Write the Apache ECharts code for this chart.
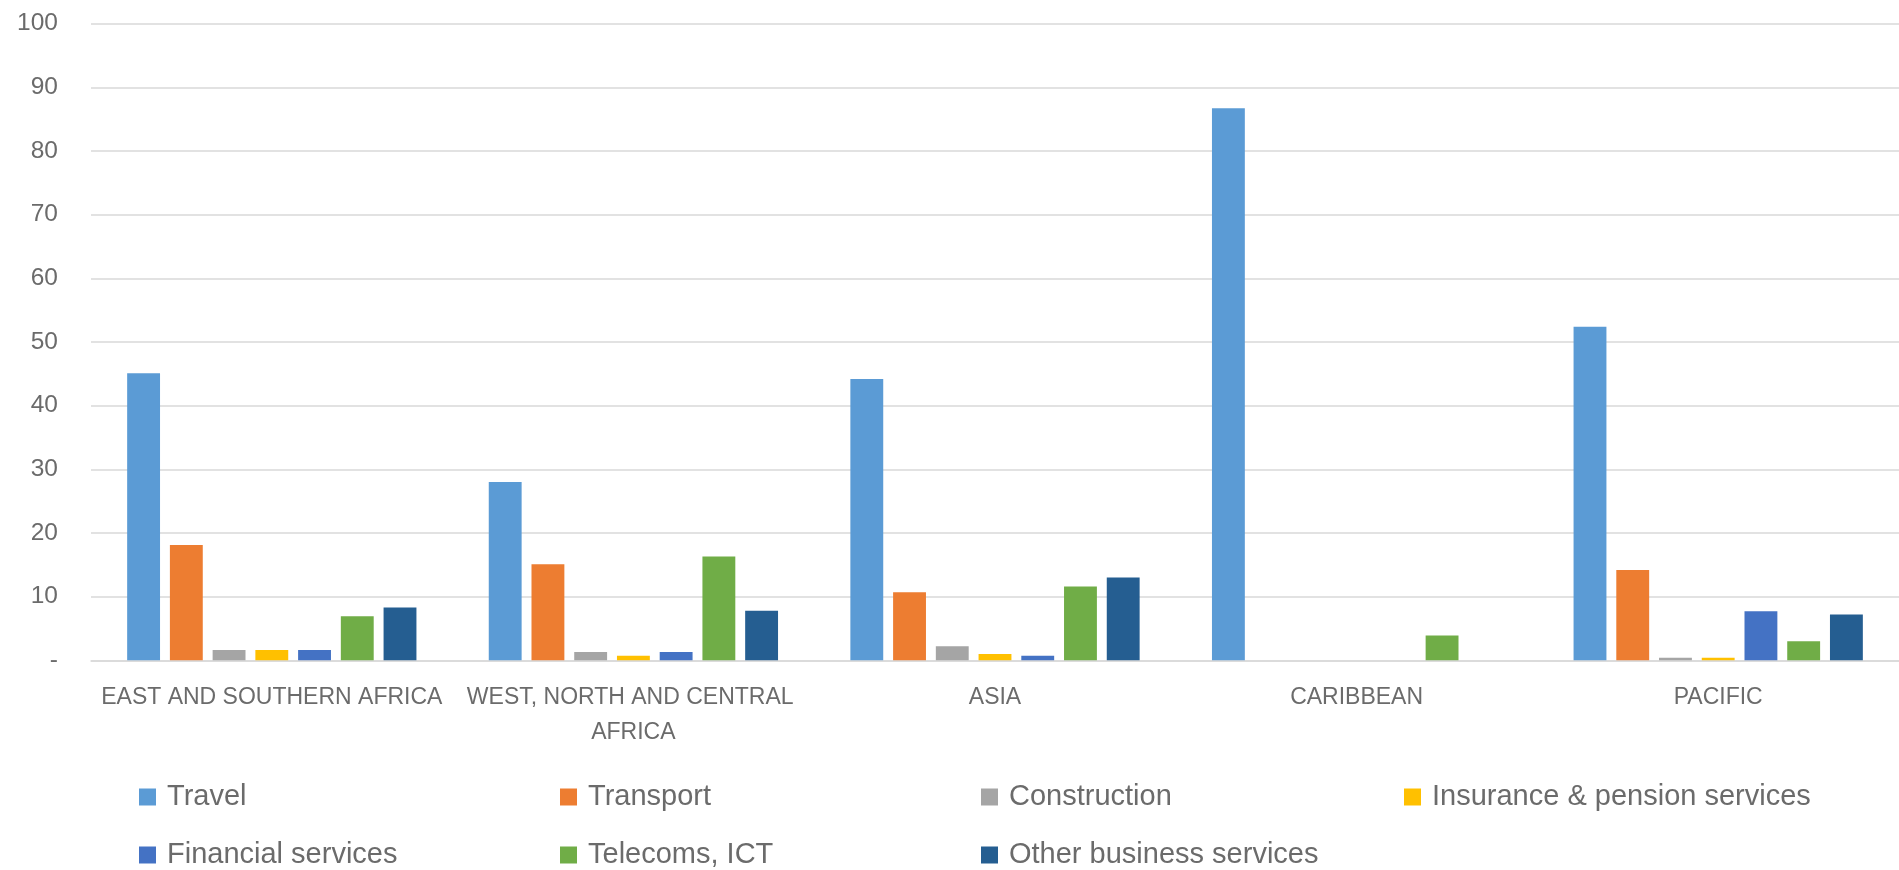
<!DOCTYPE html>
<html>
<head>
<meta charset="utf-8">
<script src="https://cdn.jsdelivr.net/npm/echarts@6/dist/echarts.min.js"></script>
<style>
  html, body { margin: 0; padding: 0; background: #fff; }
  #chart { width: 1899px; height: 870px; }
</style>
</head>
<body>
<div id="chart"></div>
<script>
const regions = ['EAST AND SOUTHERN AFRICA', 'WEST, NORTH AND CENTRAL AFRICA', 'ASIA', 'CARIBBEAN', 'PACIFIC'];

const travel = [45.1, 28.0, 44.2, 86.7, 52.4];
const transport = [18.1, 15.1, 10.7, 0, 14.2];
const construction = [1.6, 1.3, 2.2, 0, 0.4];
const insurance = [1.6, 0.7, 1.0, 0, 0.4];
const financial = [1.6, 1.3, 0.7, 0, 7.7];
const telecoms = [6.9, 16.3, 11.6, 3.9, 3.0];
const otherBusiness = [8.3, 7.8, 13.0, 0, 7.2];

const seriesNames = ['Travel', 'Transport', 'Construction', 'Insurance & pension services',
  'Financial services', 'Telecoms, ICT', 'Other business services'];
const seriesData = [travel, transport, construction, insurance, financial, telecoms, otherBusiness];
const colors = ['#5b9bd5', '#ed7d31', '#a5a5a5', '#ffc000', '#4472c4', '#70ad47', '#255e91'];

const font = 'Liberation Sans';
const grey = '#6b6b6b';

// legend laid out as Excel does: 4 columns, 2 rows
const legendCols = [134, 555, 976, 1399];
const legendRows = [777, 835];

const chart = echarts.init(document.getElementById('chart'));

const option = {
  animation: false,
  color: colors,
  grid: { left: 91, right: -20, top: 23.6, bottom: 209.7, containLabel: false },
  legend: seriesNames.map((name, i) => ({
    data: [name],
    left: legendCols[i % 4],
    top: legendRows[Math.floor(i / 4)],
    icon: 'rect',
    itemWidth: 17,
    itemHeight: 17,
    selectedMode: false,
    textStyle: {
      fontFamily: font,
      fontSize: 29,
      lineHeight: 30,
      color: grey,
      padding: [0, 0, 0, 6]
    }
  })),
  xAxis: {
    type: 'category',
    data: regions,
    axisTick: { show: false },
    axisLine: { lineStyle: { color: '#d9d9d9', width: 1.5 } },
    axisLabel: {
      margin: 20,
      fontFamily: font,
      fontSize: 23,
      lineHeight: 35,
      color: grey,
      width: 350,
      overflow: 'break',
      interval: 0
    }
  },
  yAxis: {
    type: 'value',
    min: 0,
    max: 100,
    interval: 10,
    axisLine: { show: false },
    axisTick: { show: false },
    splitLine: { lineStyle: { color: '#d9d9d9', width: 1.5 } },
    axisLabel: {
      margin: 33,
      fontFamily: font,
      fontSize: 24.5,
      color: grey,
      formatter: v => (v === 0 ? '-' : v)
    }
  },
  series: seriesNames.map((name, i) => ({
    name: name,
    type: 'bar',
    data: seriesData[i],
    barGap: '30%',
    barCategoryGap: '20%',
    itemStyle: { color: colors[i] }
  }))
};

chart.setOption(option);
</script>
</body>
</html>
